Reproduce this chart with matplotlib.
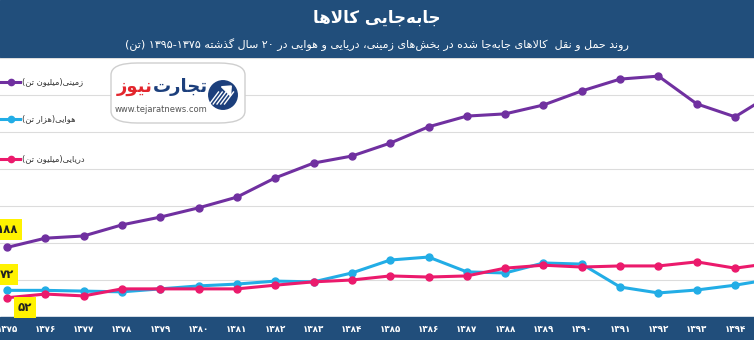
import matplotlib
matplotlib.use('Agg')
import matplotlib.pyplot as plt
from matplotlib.patches import Rectangle, FancyBboxPatch, Circle
from matplotlib.lines import Line2D
import numpy as np

# سال‌ها و مقادیر سه بخش
years = list(range(1375, 1396))
land = [188, 213, 219, 249, 270, 295, 324, 376, 416, 435, 470, 514, 543, 549, 573, 611, 643, 651, 576, 541, 605]
air = [72, 72, 70, 68, 76, 84, 89, 97, 95, 119, 154, 162, 122, 119, 146, 143, 81, 65, 73, 86, 103]
sea = [52, 62, 57, 76, 76, 76, 76, 86, 95, 100, 111, 108, 111, 132, 140, 135, 138, 138, 149, 132, 146]
names = ['زمینی(میلیون تن)', 'هوایی(هزار تن)', 'دریایی(میلیون تن)']
colors = ['#7030a0', '#22ade6', '#eb1a6c']

title = 'جابه\u200cجایی کالاها'
subtitle = 'روند حمل و نقل  کالاهای جابه\u200cجا شده در بخش\u200cهای زمینی، دریایی و هوایی در ۲۰ سال گذشته ۱۳۷۵-۱۳۹۵ (تن)'

# جدول شکل‌های حروف: تنها، پایانی، آغازی، میانی
FORMS = {
    'ا': (0xFE8D, 0xFE8E), 'آ': (0xFE81, 0xFE82),
    'ب': (0xFE8F, 0xFE90, 0xFE91, 0xFE92), 'پ': (0xFB56, 0xFB57, 0xFB58, 0xFB59),
    'ت': (0xFE95, 0xFE96, 0xFE97, 0xFE98), 'ث': (0xFE99, 0xFE9A, 0xFE9B, 0xFE9C),
    'ج': (0xFE9D, 0xFE9E, 0xFE9F, 0xFEA0), 'چ': (0xFB7A, 0xFB7B, 0xFB7C, 0xFB7D),
    'ح': (0xFEA1, 0xFEA2, 0xFEA3, 0xFEA4), 'خ': (0xFEA5, 0xFEA6, 0xFEA7, 0xFEA8),
    'د': (0xFEA9, 0xFEAA), 'ذ': (0xFEAB, 0xFEAC), 'ر': (0xFEAD, 0xFEAE),
    'ز': (0xFEAF, 0xFEB0), 'ژ': (0xFB8A, 0xFB8B),
    'س': (0xFEB1, 0xFEB2, 0xFEB3, 0xFEB4), 'ش': (0xFEB5, 0xFEB6, 0xFEB7, 0xFEB8),
    'ص': (0xFEB9, 0xFEBA, 0xFEBB, 0xFEBC), 'ط': (0xFEC1, 0xFEC2, 0xFEC3, 0xFEC4),
    'ع': (0xFEC9, 0xFECA, 0xFECB, 0xFECC), 'ف': (0xFED1, 0xFED2, 0xFED3, 0xFED4),
    'ق': (0xFED5, 0xFED6, 0xFED7, 0xFED8), 'ک': (0xFB8E, 0xFB8F, 0xFB90, 0xFB91),
    'گ': (0xFB92, 0xFB93, 0xFB94, 0xFB95), 'ل': (0xFEDD, 0xFEDE, 0xFEDF, 0xFEE0),
    'م': (0xFEE1, 0xFEE2, 0xFEE3, 0xFEE4), 'ن': (0xFEE5, 0xFEE6, 0xFEE7, 0xFEE8),
    'ه': (0xFEE9, 0xFEEA, 0xFEEB, 0xFEEC), 'و': (0xFEED, 0xFEEE),
    'ی': (0xFBFC, 0xFBFD, 0xFBFE, 0xFBFF),
}
DIGITS = set('۰۱۲۳۴۵۶۷۸۹0123456789')
MIRROR = {'(': ')', ')': '('}


def fa(s):
    # اتصال حروف و چیدن راست به چپ
    out = []
    i = 0
    n = len(s)
    while i < n:
        c = s[i]
        if c not in FORMS:
            if c != '\u200c':
                out.append(c)
            i += 1
            continue
        prev = s[i - 1] if i > 0 else ''
        joins_prev = prev in FORMS and len(FORMS[prev]) == 4
        if c == 'ل' and i + 1 < n and s[i + 1] == 'ا':
            out.append(chr(0xFEFC if joins_prev else 0xFEFB))
            i += 2
            continue
        nxt = s[i + 1] if i + 1 < n else ''
        joins_next = len(FORMS[c]) == 4 and nxt in FORMS
        f = FORMS[c]
        if joins_prev and joins_next:
            out.append(chr(f[3]))
        elif joins_prev:
            out.append(chr(f[1]))
        elif joins_next:
            out.append(chr(f[2]))
        else:
            out.append(chr(f[0]))
        i += 1
    # اعداد چپ به راست می‌مانند
    runs = []
    for c in out:
        if c in DIGITS and runs and runs[-1][0] in DIGITS:
            runs[-1] += c
        else:
            runs.append(MIRROR.get(c, c))
    return ''.join(runs[::-1])


def pnum(v):
    return str(v).translate(str.maketrans('0123456789', '۰۱۲۳۴۵۶۷۸۹'))


plt.rcParams['font.family'] = ['DejaVu Sans']
fig = plt.figure(figsize=(7.54, 3.40), dpi=100)
W, H = 754, 340
band = '#214e7b'

# نوار بالا و پایین
fig.patches.append(Rectangle((0, 1 - 57 / H), 1, 57 / H, transform=fig.transFigure, color=band, zorder=-2))
fig.patches.append(Rectangle((0, 0), 1, 23 / H, transform=fig.transFigure, color=band, zorder=-2))
fig.text(0.5, 1 - 18 / H, fa(title), color='white', fontsize=12, fontweight='bold', ha='center', va='center')
fig.text(0.5, 1 - 45 / H, fa(subtitle), color='white', fontsize=8, ha='center', va='center')

ax = fig.add_axes([0, 23 / H, 1, (317 - 58) / H])
ax.set_zorder(1)
ax.set_xlim(1375 - 7 / 38.32, 1375 + 747 / 38.32)
ax.set_ylim(0, 700)
ax.set_yticks(range(100, 701, 100))
ax.grid(axis='y', color='#dcdcdc', lw=0.8)
ax.set_axisbelow(True)
for sp in ax.spines.values():
    sp.set_visible(False)
ax.tick_params(axis='y', left=False, labelleft=False)
ax.set_xticks(years[:-1])
ax.set_xticklabels([pnum(y) for y in years[:-1]], color='white', fontsize=6.3, fontweight='bold')
ax.tick_params(axis='x', length=0, pad=6)
ax.patch.set_alpha(0)

for vals, c in zip([land, air, sea], colors):
    ax.plot(years, vals, color=c, lw=2.2, marker='o', ms=5)

# برچسب‌های زرد
lab = dict(fontsize=8.5, fontweight='bold', color='#222222', ha='center', va='center',
           textcoords='offset pixels',
           bbox=dict(boxstyle='square,pad=0.35', fc='#fff200', ec='none'))
ax.annotate(pnum(land[0]), (years[0], land[0]), xytext=(0, 18), **lab)
ax.annotate(pnum(air[0]), (years[0], air[0]), xytext=(0, 16), **lab)
ax.annotate(pnum(sea[0]), (years[0], sea[0]), xytext=(18, -10), **lab)

# راهنما
for k, (name, c) in enumerate(zip(names, colors)):
    y = 1 - [82, 119, 159][k] / H
    fig.lines.append(Line2D([1 / W, 20 / W], [y, y], transform=fig.transFigure, color=c, lw=2.2))
    fig.lines.append(Line2D([11 / W], [y], transform=fig.transFigure, color=c, marker='o', ms=4.5))
    fig.text(22 / W, y, fa(name), fontsize=6, color='#333333', ha='left', va='center')

# نشان تجارت نیوز
fig.patches.append(FancyBboxPatch((111 / W, 1 - 123 / H), 134 / W, 60 / H, transform=fig.transFigure,
                                  boxstyle='round,pad=0,rounding_size=0.035', fc='white', ec='#cfcfcf',
                                  lw=1, zorder=3))
fig.text(153 / W, 1 - 87 / H, fa('نیوز'), fontsize=13, fontweight='bold', color='#e3262d', ha='right', va='center', zorder=4)
fig.text(153 / W, 1 - 87 / H, fa('تجارت'), fontsize=13, fontweight='bold', color='#1c3f7c', ha='left', va='center', zorder=4)
fig.text(161 / W, 1 - 109 / H, 'www.tejaratnews.com', fontsize=6, color='#555555', ha='center', va='center', zorder=4)
icon = fig.add_axes([208 / W, 1 - 110 / H, 30 / W, 30 / H])
icon.set_zorder(5)
icon.set_xlim(-1, 1)
icon.set_ylim(-1, 1)
icon.axis('off')
icon.add_patch(Circle((0, 0), 0.95, color='#1c3f7c'))
for t in np.linspace(-0.6, 0.4, 5):
    icon.plot([t - 0.3, t + 0.3], [-0.6, 0.2], color='white', lw=1)
icon.fill([-0.1, 0.55, 0.5], [0.55, 0.6, -0.05], color='white')

fig.savefig('out.png', dpi=100)
